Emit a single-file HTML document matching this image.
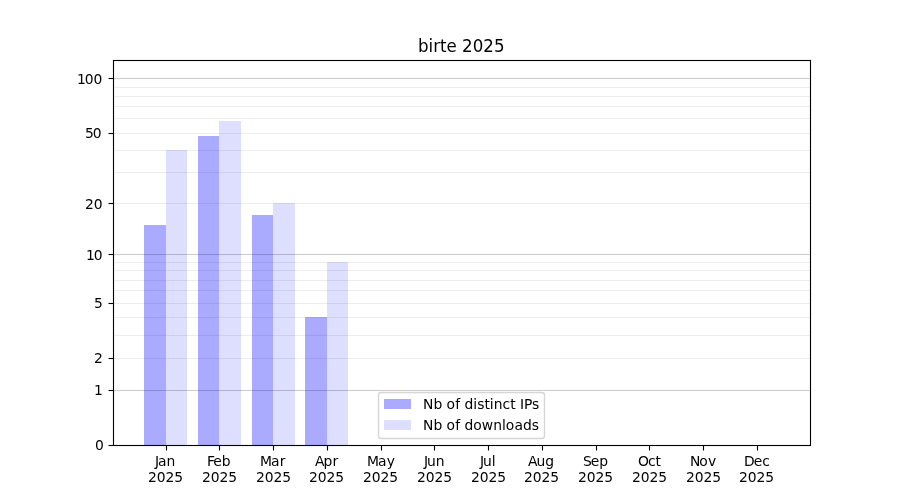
<!DOCTYPE html>
<html lang="en">
<head>
<meta charset="utf-8">
<title>birte 2025</title>
<style>
  html, body { margin: 0; padding: 0; background: #ffffff; }
  body { width: 900px; height: 500px; overflow: hidden; }
  svg { display: block; }
  text { font-family: 'DejaVu Sans', 'Liberation Sans', sans-serif; fill: #000000; }
  .gray { filter: grayscale(1); }
  .t10 { font-size: 13.889px; }
  .t12 { font-size: 16.667px; }
  .bars rect { fill: #0000ff; shape-rendering: crispEdges; }
  .ip { opacity: 0.333; }
  .dl { opacity: 0.13; }
  .major line { stroke: #000000; stroke-opacity: 0.2; stroke-width: 1.111; }
  .minor line { stroke: #000000; stroke-opacity: 0.07; stroke-width: 1.111; }
  .ticks line { stroke: #000000; stroke-width: 1.111; }
  .spines { fill: none; stroke: #000000; stroke-width: 1.111; stroke-linejoin: miter; }
</style>
</head>
<body>
<svg width="900" height="500" viewBox="0 0 900 500">
<rect x="0" y="0" width="900" height="500" fill="#ffffff"/>
<g class="bars">
  <rect class="ip" x="144" y="225" width="22" height="220"/>
  <rect class="dl" x="166" y="150" width="21" height="295"/>
  <rect class="ip" x="198" y="136" width="21" height="309"/>
  <rect class="dl" x="219" y="121" width="22" height="324"/>
  <rect class="ip" x="252" y="215" width="21" height="230"/>
  <rect class="dl" x="273" y="203" width="22" height="242"/>
  <rect class="ip" x="305" y="317" width="22" height="128"/>
  <rect class="dl" x="327" y="262" width="21" height="183"/>
</g>
<g class="minor">
  <line x1="113" y1="358.5" x2="810" y2="358.5"/>
  <line x1="113" y1="335.5" x2="810" y2="335.5"/>
  <line x1="113" y1="317.5" x2="810" y2="317.5"/>
  <line x1="113" y1="303.5" x2="810" y2="303.5"/>
  <line x1="113" y1="290.5" x2="810" y2="290.5"/>
  <line x1="113" y1="280.5" x2="810" y2="280.5"/>
  <line x1="113" y1="270.5" x2="810" y2="270.5"/>
  <line x1="113" y1="262.5" x2="810" y2="262.5"/>
  <line x1="113" y1="203.5" x2="810" y2="203.5"/>
  <line x1="113" y1="172.5" x2="810" y2="172.5"/>
  <line x1="113" y1="150.5" x2="810" y2="150.5"/>
  <line x1="113" y1="133.5" x2="810" y2="133.5"/>
  <line x1="113" y1="118.5" x2="810" y2="118.5"/>
  <line x1="113" y1="106.5" x2="810" y2="106.5"/>
  <line x1="113" y1="96.5" x2="810" y2="96.5"/>
  <line x1="113" y1="87.5" x2="810" y2="87.5"/>
</g>
<g class="major">
  <line x1="113" y1="390.5" x2="810" y2="390.5"/>
  <line x1="113" y1="254.5" x2="810" y2="254.5"/>
  <line x1="113" y1="78.5" x2="810" y2="78.5"/>
</g>
<g class="ticks">
  <line x1="166.5" y1="445.5" x2="166.5" y2="450.5"/>
  <line x1="219.5" y1="445.5" x2="219.5" y2="450.5"/>
  <line x1="273.5" y1="445.5" x2="273.5" y2="450.5"/>
  <line x1="327.5" y1="445.5" x2="327.5" y2="450.5"/>
  <line x1="381.5" y1="445.5" x2="381.5" y2="450.5"/>
  <line x1="434.5" y1="445.5" x2="434.5" y2="450.5"/>
  <line x1="488.5" y1="445.5" x2="488.5" y2="450.5"/>
  <line x1="542.5" y1="445.5" x2="542.5" y2="450.5"/>
  <line x1="596.5" y1="445.5" x2="596.5" y2="450.5"/>
  <line x1="649.5" y1="445.5" x2="649.5" y2="450.5"/>
  <line x1="703.5" y1="445.5" x2="703.5" y2="450.5"/>
  <line x1="757.5" y1="445.5" x2="757.5" y2="450.5"/>
  <line x1="108.5" y1="445.5" x2="113.5" y2="445.5"/>
  <line x1="108.5" y1="390.5" x2="113.5" y2="390.5"/>
  <line x1="108.5" y1="358.5" x2="113.5" y2="358.5"/>
  <line x1="108.5" y1="303.5" x2="113.5" y2="303.5"/>
  <line x1="108.5" y1="254.5" x2="113.5" y2="254.5"/>
  <line x1="108.5" y1="203.5" x2="113.5" y2="203.5"/>
  <line x1="108.5" y1="133.5" x2="113.5" y2="133.5"/>
  <line x1="108.5" y1="78.5" x2="113.5" y2="78.5"/>
</g>
<rect class="spines" x="113.5" y="60.5" width="697" height="385"/>
<g class="t10 gray">
  <text text-anchor="start" x="155 158.08 166.6" y="465.78">Jan</text><text text-anchor="start" x="148.04 156.86 165.43 174.26" y="481.58">2025</text>
  <text text-anchor="start" x="206.9 213.37 221.65" y="465.78">Feb</text><text text-anchor="start" x="202.03 210.85 219.42 228.25" y="481.58">2025</text>
  <text text-anchor="start" x="260.08 271.05 279.8" y="465.78">Mar</text><text text-anchor="start" x="256.01 264.83 273.4 282.23" y="481.58">2025</text>
  <text text-anchor="start" x="314.9 323.39 332.45" y="465.78">Apr</text><text text-anchor="start" x="309 317.82 326.39 335.22" y="481.58">2025</text>
  <text text-anchor="start" x="367.06 378.02 386.77" y="465.78">May</text><text text-anchor="start" x="362.99 371.81 380.38 389.21" y="481.58">2025</text>
  <text text-anchor="start" x="424.04 427.11 435.66" y="465.78">Jun</text><text text-anchor="start" x="416.97 425.79 434.61 443.19" y="481.58">2025</text>
  <text text-anchor="start" x="479.99 483.07 491.87" y="465.78">Jul</text><text text-anchor="start" x="470.96 479.78 488.6 497.18" y="481.58">2025</text>
  <text text-anchor="start" x="528.05 536.54 545.33" y="465.78">Aug</text><text text-anchor="start" x="523.94 532.76 541.58 550.16" y="481.58">2025</text>
  <text text-anchor="start" x="583.01 590.81 599.36" y="465.78">Sep</text><text text-anchor="start" x="577.93 586.75 595.57 604.15" y="481.58">2025</text>
  <text text-anchor="start" x="638.08 647.99 655.38" y="465.78">Oct</text><text text-anchor="start" x="631.92 640.74 649.56 658.14" y="481.58">2025</text>
  <text text-anchor="start" x="690.01 699.14 708.12" y="465.78">Nov</text><text text-anchor="start" x="685.9 694.72 703.54 712.37" y="481.58">2025</text>
  <text text-anchor="start" x="744.12 753.79 762.34" y="465.78">Dec</text><text text-anchor="start" x="738.89 747.71 756.53 765.36" y="481.58">2025</text>
</g>
<g class="t10 gray">
  <text text-anchor="start" x="94.95" y="449.78">0</text>
  <text text-anchor="start" x="93.95" y="394.71">1</text>
  <text text-anchor="start" x="93.95" y="362.74">2</text>
  <text text-anchor="start" x="93.95" y="307.67">5</text>
  <text text-anchor="start" x="86.12 93.69" y="259.51">10</text>
  <text text-anchor="start" x="85.12 93.69" y="208.64">20</text>
  <text text-anchor="start" x="85.12 92.69" y="137.64">50</text>
  <text text-anchor="start" x="77.05 84.86 93.44" y="83.60">100</text>
</g>
<g class="gray"><text class="t12" text-anchor="middle" transform="translate(461.25,52) scale(1,1.08)">birte 2025</text></g>
<g class="legend">
  <rect x="378.5" y="392.5" width="166" height="46" rx="2.78" ry="2.78" fill="#ffffff" stroke="#cccccc" stroke-width="1.389" opacity="0.8"/>
  <rect x="384" y="399" width="27" height="10" fill="#0000ff" opacity="0.333" shape-rendering="crispEdges"/>
  <rect x="384" y="420" width="27" height="10" fill="#0000ff" opacity="0.13" shape-rendering="crispEdges"/>
  <g class="gray"><text class="t10" text-anchor="start" x="422.99 433.61 442.41 446.58 455.32 460.21 464.61 473.18 477.27 484.51 489.69 493.8 502.6 510.22 515.66 520.07 523.91 532.04" y="408.73">Nb of distinct IPs</text>
  <text class="t10" text-anchor="start" x="422.99 433.61 442.41 446.58 455.32 460.21 464.61 473.18 481.66 493.26 502.05 505.66 514.4 522.9 531.71" y="429.61">Nb of downloads</text></g>
</g>
</svg>
</body>
</html>
